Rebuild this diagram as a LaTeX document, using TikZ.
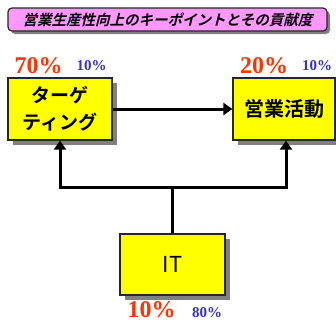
\documentclass[tikz,border=0pt]{standalone}
\usepackage{fontspec}
\setmainfont{Liberation Serif}
\newfontfamily\jp{Noto Sans CJK JP}[BoldFont={Noto Sans CJK JP Bold}]
\newfontfamily\jpit{Noto Sans CJK JP Bold}[FakeSlant=0.25]
\usetikzlibrary{arrows.meta,shadows}
\definecolor{pinkfill}{HTML}{FF99FF}
\definecolor{boxyellow}{HTML}{FFFF00}
\definecolor{pctred}{HTML}{FF3300}
\definecolor{pctblue}{HTML}{3333CC}
\definecolor{shadowgray}{HTML}{808080}
\begin{document}
\begin{tikzpicture}[x=1pt,y=1pt,
  keybox/.style={draw=black!85,line width=1.2pt,fill=boxyellow,inner sep=0pt,
    drop shadow={shadow xshift=5pt,shadow yshift=-5pt,fill=shadowgray,opacity=1},
    align=center},
  titlebox/.style={draw=black!85,line width=1.2pt,fill=pinkfill,rounded corners=4pt,inner sep=0pt,
    drop shadow={shadow xshift=3pt,shadow yshift=-3pt,fill=shadowgray,opacity=1}},
  bigpct/.style={text=pctred,font=\bfseries\fontsize{24}{24}\selectfont,anchor=base,inner sep=0pt},
  smallpct/.style={text=pctblue,font=\bfseries\fontsize{15}{15}\selectfont,anchor=base,inner sep=0pt},
  conn/.style={line width=3pt},
  arr/.style={line width=3pt,-{Triangle[length=9pt,width=12pt]}}]
\useasboundingbox (0,0) rectangle (336,-322);
\node[titlebox,minimum width=319pt,minimum height=23pt,font=\jpit\fontsize{14.5}{14.5}\selectfont] (title) at (167.5,-19.5)
  {営業生産性向上のキーポイントとその貢献度};
\node[keybox,minimum width=104pt,minimum height=62pt,font=\jp\bfseries\fontsize{19}{27}\selectfont] (tg) at (60,-109)
  {ターゲ\\ティング};
\node[keybox,minimum width=102pt,minimum height=62pt,font=\jp\bfseries\fontsize{20}{20}\selectfont] (eg) at (284,-109)
  {営業活動};
\node[keybox,minimum width=105pt,minimum height=61pt,font=\jp\fontsize{22}{22}\selectfont] (it) at (172.5,-264.5)
  {IT};
\node[bigpct] (p70) at (38.5,-73) {70\%};
\node[smallpct] (p10a) at (91.5,-70) {10\%};
\node[bigpct] (p20) at (264,-73) {20\%};
\node[smallpct] (p10b) at (317,-70) {10\%};
\node[bigpct] (p10c) at (151.5,-317) {10\%};
\node[smallpct] (p80) at (207,-317) {80\%};
\coordinate (jL) at (60,-187);
\coordinate (jR) at (286,-187);
\coordinate (jC) at (172,-187);
\draw[arr] (tg.east) -- (eg.west);
\draw[conn] (it.north -| jC) -- (jC);
\draw[conn,line cap=rect] (jL) -- (jR);
\draw[arr] (jL) -- (tg.south);
\draw[arr] (jR) -- (jR |- eg.south);
\end{tikzpicture}
\end{document}
